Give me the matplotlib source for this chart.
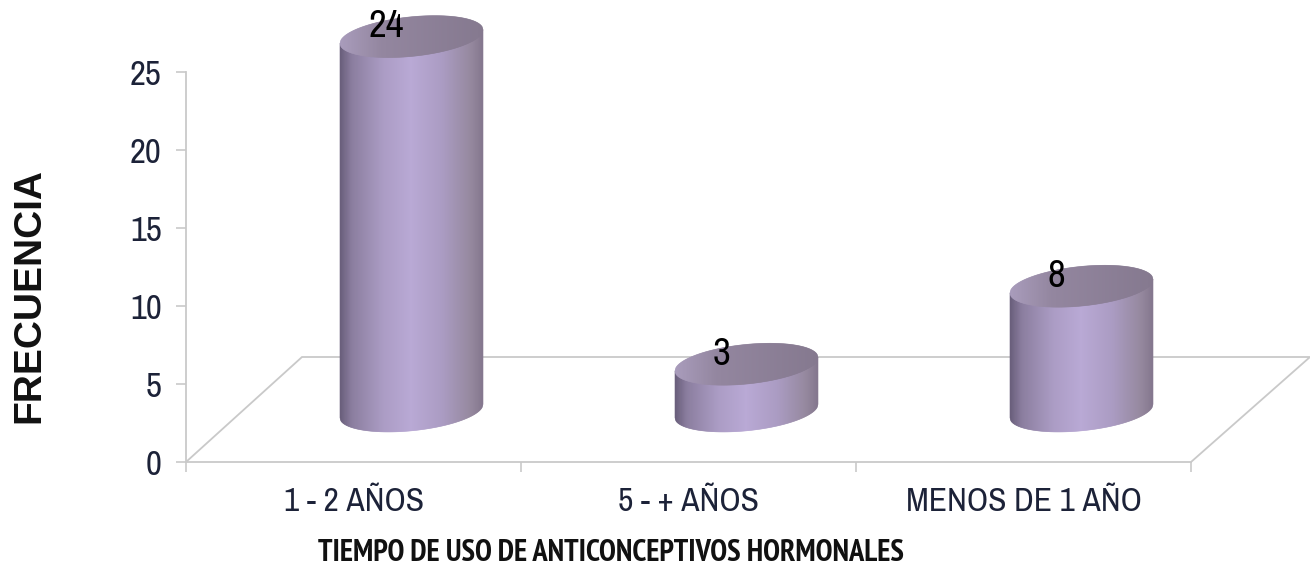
import numpy as np
import matplotlib
matplotlib.use("Agg")
import matplotlib.pyplot as plt
from matplotlib.collections import PolyCollection
from matplotlib.colors import LinearSegmentedColormap
from matplotlib.patches import Polygon
from matplotlib.transforms import IdentityTransform
import logging
logging.getLogger("matplotlib.font_manager").setLevel(logging.ERROR)

categories = ["1 - 2 AÑOS", "5 - + AÑOS", "MENOS DE 1 AÑO"]
values = [24, 3, 8]
y_ticks = [0, 5, 10, 15, 20, 25]
x_title = "TIEMPO DE USO DE ANTICONCEPTIVOS HORMONALES"
y_title = "FRECUENCIA"

W, H = 1310, 570
NARROW = ["Liberation Sans Narrow", "Archivo Narrow", "Roboto Condensed", "Liberation Sans", "DejaVu Sans"]
NARROW_BOLD = ["PT Sans Narrow", "Liberation Sans", "DejaVu Sans"]
GREY = "#c9c9c9"
DEPTH_X, DEPTH_Y = 58, 51   # floor depth, pixels
A, B, K = 71.5, 19.8, 0.095  # ellipse half width, half height, tilt

fig = plt.figure(figsize=(W / 100, H / 100), dpi=100, facecolor="white")
ax = fig.add_axes([186 / W, 1 - 462 / H, 1005 / W, 390 / H])
ax.set_xlim(-0.5, 2.5)
ax.set_ylim(0, 25)
ax.patch.set_visible(False)
for s in ("top", "right"):
    ax.spines[s].set_visible(False)
for s in ("left", "bottom"):
    ax.spines[s].set_color(GREY)
    ax.spines[s].set_linewidth(1.3)

ax.set_yticks(y_ticks)
ax.set_yticklabels([str(v) for v in y_ticks], family=NARROW, fontsize=25, color="#1c2238")
ax.tick_params(axis="y", length=7.5, width=1.2, color=GREY, pad=10)
ax.set_xticks(np.arange(-0.5, 3, 1))
ax.set_xticklabels([])
ax.tick_params(axis="x", which="major", length=7.5, width=1.2, color=GREY)
ax.set_xticks(range(len(categories)), minor=True)
ax.set_xticklabels(categories, minor=True, family=NARROW, fontsize=24, color="#1c2238")
ax.tick_params(axis="x", which="minor", length=0, pad=18)

def px(x, y):
    return ax.transData.transform((x, y))

idt = IdentityTransform()

# floor
p0 = px(-0.5, 0)
p1 = px(2.5, 0)
floor = [p0, p0 + (116, 105), p1 + (119, 105), p1]
ax.add_patch(Polygon(floor, closed=False, fill=False, edgecolor=GREY, lw=1.3,
                     transform=idt, clip_on=False, zorder=1))

body_cmap = LinearSegmentedColormap.from_list(
    "body", [(0, "#6a5f7c"), (0.08, "#8b7e9f"), (0.3, "#ab9cc4"), (0.5, "#b9a9d5"),
             (0.72, "#ab9cc3"), (0.92, "#96899f"), (1, "#85788f")])
top_cmap = LinearSegmentedColormap.from_list(
    "top", [(0, "#a99cbc"), (0.3, "#93869f"), (1, "#85798f")])

for i, v in enumerate(values):
    cx, by = px(i, 0) + (DEPTH_X, DEPTH_Y)
    ty = px(i, v)[1] + DEPTH_Y
    xs = np.linspace(-A, A, 144)
    front = B * np.sqrt(np.clip(1 - (xs / A) ** 2, 0, 1))
    quads, cols = [], []
    for j in range(len(xs) - 1):
        x0, x1 = xs[j], xs[j + 1]
        quads.append([(cx + x0, ty + K * x0), (cx + x1, ty + K * x1),
                      (cx + x1, by + K * x1 - front[j + 1]), (cx + x0, by + K * x0 - front[j])])
        cols.append(body_cmap(j / (len(xs) - 2)))
    ax.add_collection(PolyCollection(quads, facecolors=cols, edgecolors=cols, linewidths=0.4,
                                     transform=idt, clip_on=False, zorder=3))
    quads, cols = [], []
    for j in range(len(xs) - 1):
        x0, x1 = xs[j], xs[j + 1]
        quads.append([(cx + x0, ty + K * x0 - front[j]), (cx + x1, ty + K * x1 - front[j + 1]),
                      (cx + x1, ty + K * x1 + front[j + 1]), (cx + x0, ty + K * x0 + front[j])])
        cols.append(top_cmap(j / (len(xs) - 2)))
    ax.add_collection(PolyCollection(quads, facecolors=cols, edgecolors=cols, linewidths=0.4,
                                     transform=idt, clip_on=False, zorder=4))
    ax.text(cx - 25, ty + 10, str(v), transform=idt, ha="center", va="center",
            family=NARROW, fontsize=28, color="black", clip_on=False, zorder=5)

fig.text(611 / W, 1 - 553 / H, x_title, ha="center", va="center", family=NARROW_BOLD,
         fontsize=22, fontweight="bold", color="#111111")
fig.text(29 / W, 1 - 295 / H, y_title, ha="center", va="center", rotation=90,
         family=["Liberation Sans", "DejaVu Sans"], fontsize=28, fontweight="bold", color="#111111")

fig.savefig("out.png", dpi=100, facecolor="white")
